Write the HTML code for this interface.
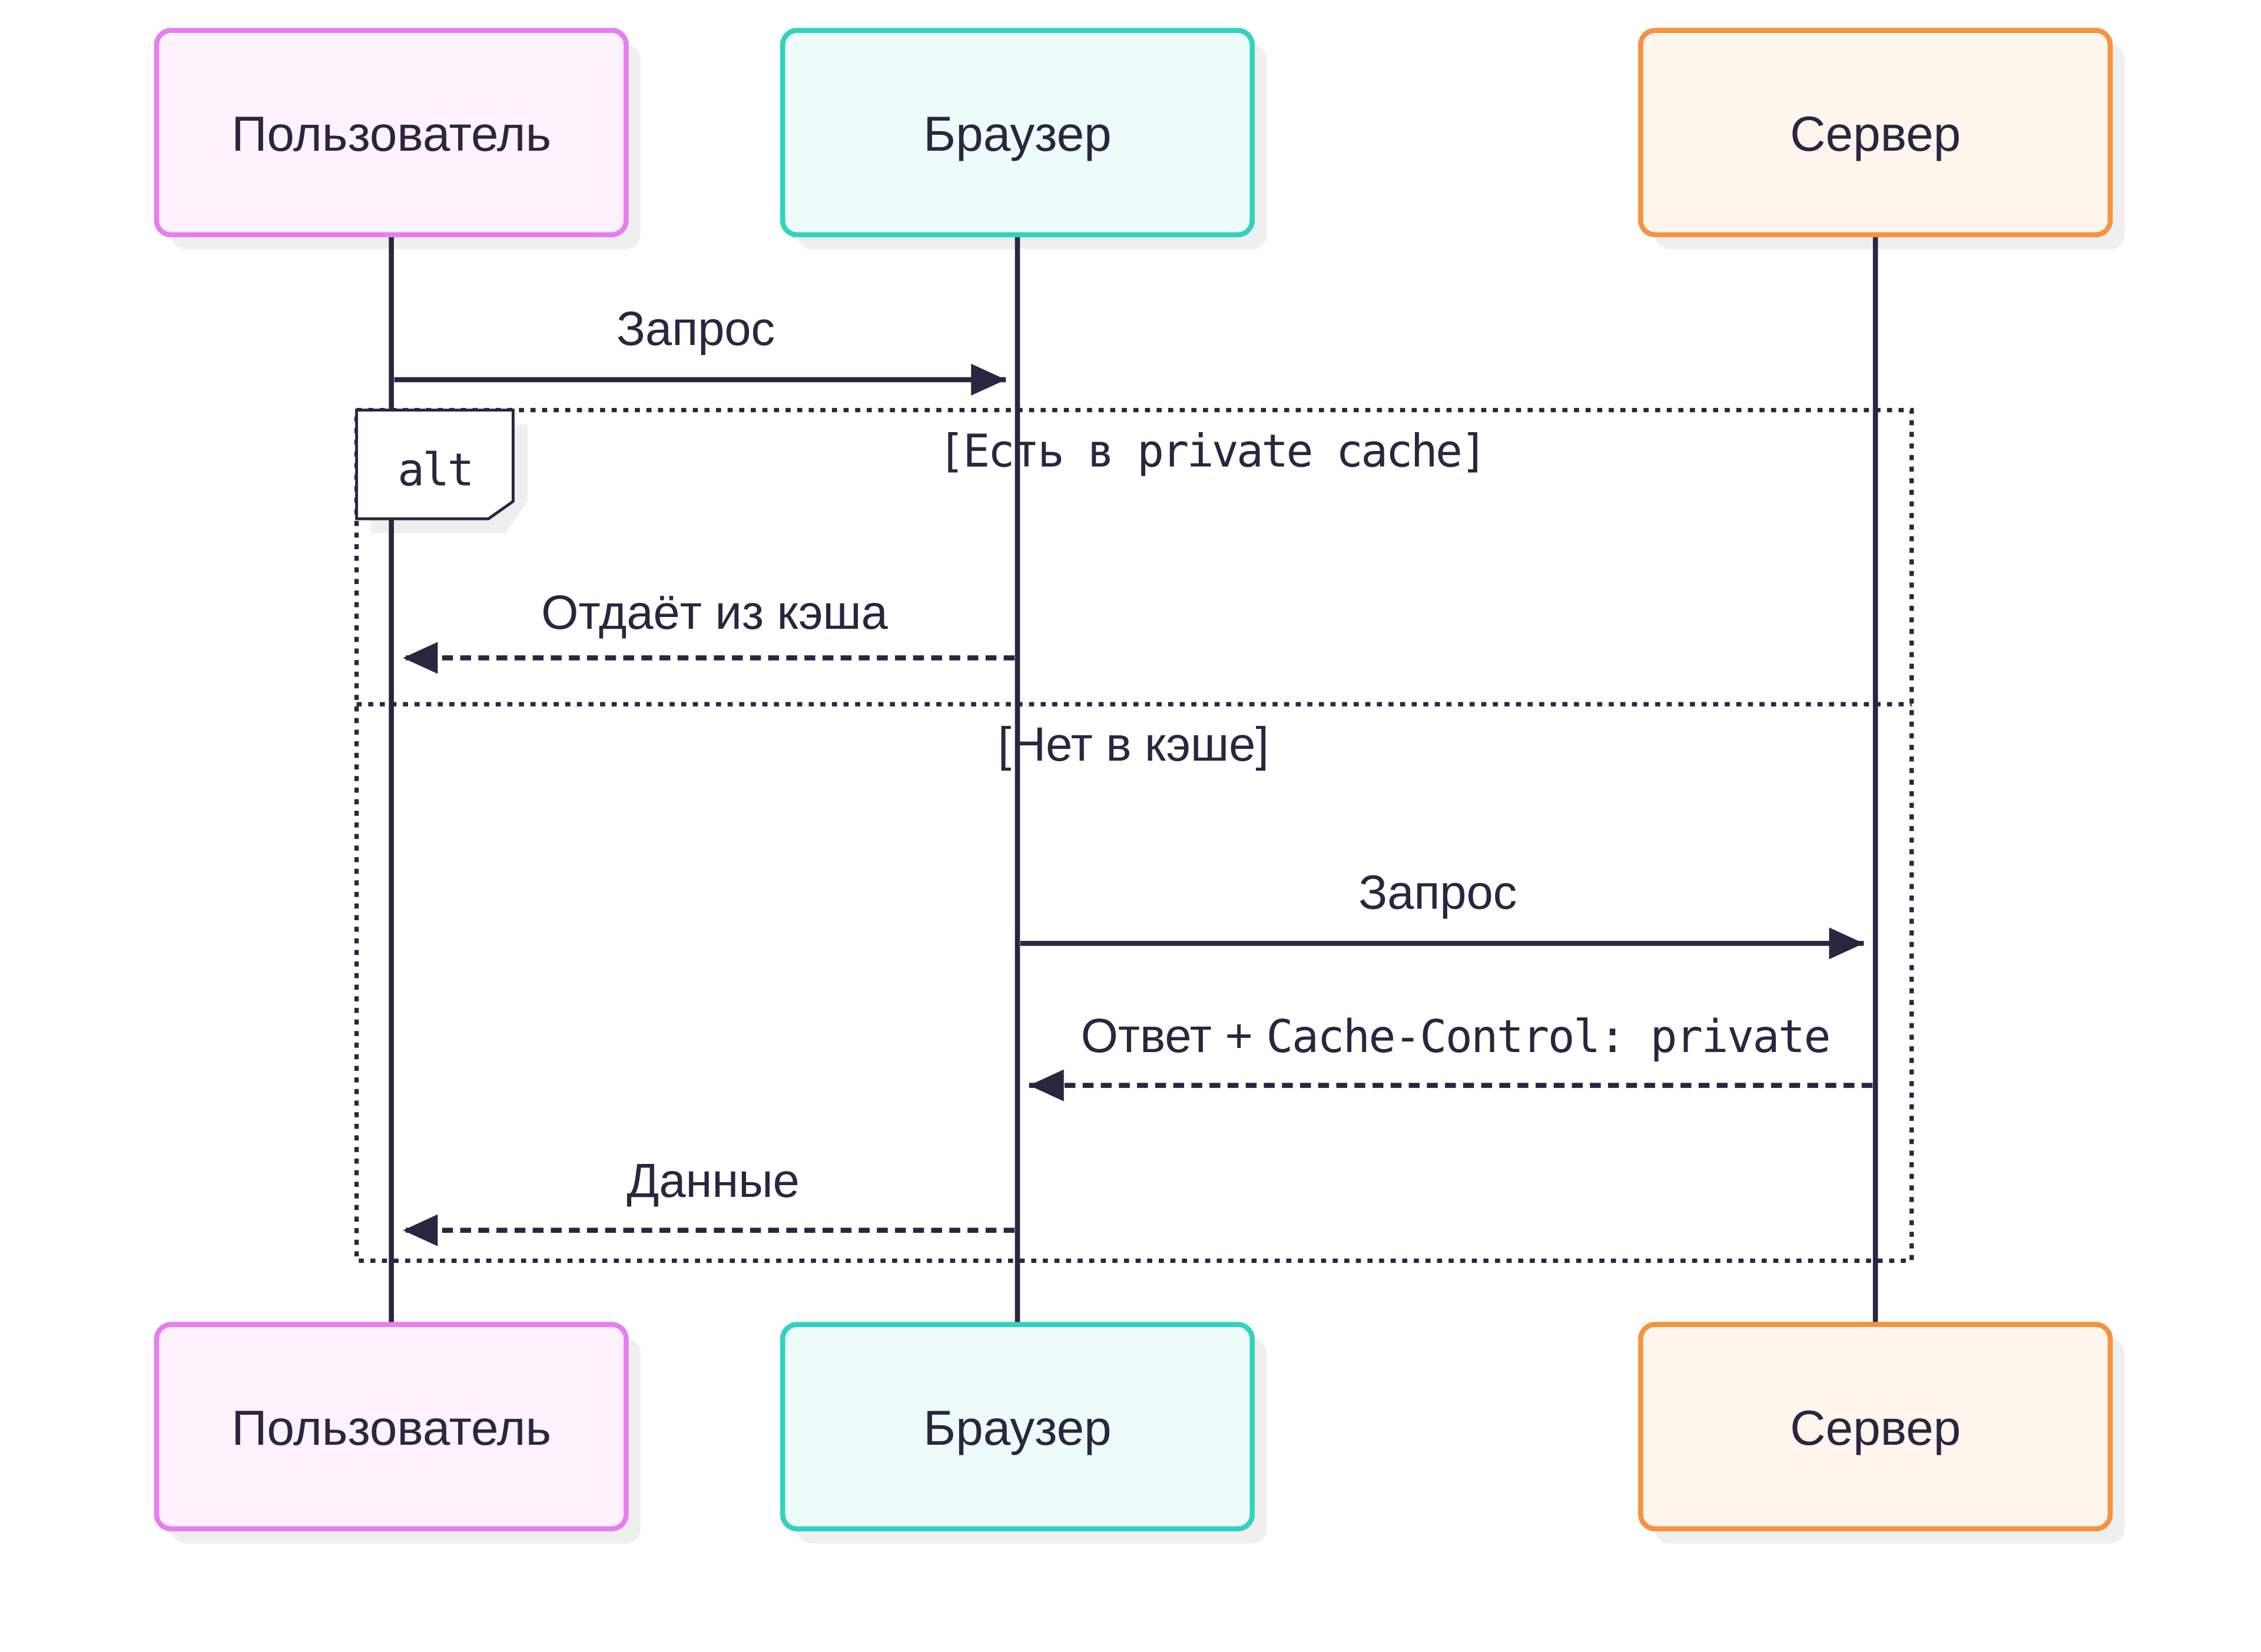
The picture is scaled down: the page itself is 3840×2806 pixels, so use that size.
<!DOCTYPE html>
<html><head><meta charset="utf-8"><style>html,body{margin:0;padding:0;background:#fff}svg{display:block}</style></head>
<body>
<svg width="3840" height="2806" viewBox="0 0 1560 1140" xmlns="http://www.w3.org/2000/svg">
<defs>
<marker id="ah" markerWidth="26" markerHeight="24" refX="24" refY="11" orient="auto" markerUnits="userSpaceOnUse" viewBox="0 0 26 24"><path d="M0,0 L24,11 L0,22 z" fill="#2a2640"/></marker>
</defs>
<rect width="1560" height="1140" fill="#fff"/>
<g fill="#efefef">
<rect x="118" y="31" width="324" height="141" rx="10"/>
<rect x="550" y="31" width="324" height="141" rx="10"/>
<rect x="1142" y="31" width="324" height="141" rx="10"/>
<rect x="118" y="924" width="324" height="141" rx="10"/>
<rect x="550" y="924" width="324" height="141" rx="10"/>
<rect x="1142" y="924" width="324" height="141" rx="10"/>
</g>
<g stroke="#2a2640" stroke-width="3.5">
<line x1="270" y1="162" x2="270" y2="914"/>
<line x1="702" y1="162" x2="702" y2="914"/>
<line x1="1294" y1="162" x2="1294" y2="914"/>
</g>
<g stroke-width="3.5">
<rect x="108" y="21" width="324" height="141" rx="10" fill="#fdf2fd" stroke="#e67ef0"/>
<rect x="540" y="21" width="324" height="141" rx="10" fill="#eefcf9" stroke="#2fd3bf"/>
<rect x="1132" y="21" width="324" height="141" rx="10" fill="#fef6ec" stroke="#f7923f"/>
<rect x="108" y="914" width="324" height="141" rx="10" fill="#fdf2fd" stroke="#e67ef0"/>
<rect x="540" y="914" width="324" height="141" rx="10" fill="#eefcf9" stroke="#2fd3bf"/>
<rect x="1132" y="914" width="324" height="141" rx="10" fill="#fef6ec" stroke="#f7923f"/>
</g>
<g font-family="Liberation Sans, DejaVu Sans, sans-serif" font-size="34" fill="#2a2640" text-anchor="middle">
<text x="270" y="104">Пользователь</text>
<text x="702" y="104">Браузер</text>
<text x="1294" y="104">Сервер</text>
<text x="270" y="997">Пользователь</text>
<text x="702" y="997">Браузер</text>
<text x="1294" y="997">Сервер</text>
</g>
<rect x="246" y="283" width="1073" height="587" fill="none" stroke="#2a2640" stroke-width="3" stroke-dasharray="3.5 4.5"/>
<line x1="246" y1="486" x2="1319" y2="486" stroke="#2a2640" stroke-width="3" stroke-dasharray="3.5 4.5"/>
<path d="M256,293 L364,293 L364,346 L349,368 L256,368 z" fill="#efefef"/>
<path d="M246,283 L354,283 L354,346 L337,358 L246,358 z" fill="#fff" stroke="#2a2640" stroke-width="2"/>
<line x1="270" y1="358" x2="270" y2="370" stroke="#2a2640" stroke-width="3.5"/>
<g font-family="DejaVu Sans Mono, Liberation Mono, monospace" font-size="31" fill="#2a2640" text-anchor="middle" letter-spacing="-1.5">
<text x="300" y="335">alt</text>
<text x="836" y="322">[Есть в private cache]</text>
</g>
<g font-family="Liberation Sans, DejaVu Sans, sans-serif" font-size="33" fill="#2a2640" text-anchor="middle">
<text x="782" y="525">[Нет в кэше]</text>
<text x="480" y="238">Запрос</text>
<text x="493" y="434">Отдаёт из кэша</text>
<text x="992" y="627">Запрос</text>
<text x="492" y="826">Данные</text>
<text x="1004" y="726">Ответ + <tspan font-family="DejaVu Sans Mono, Liberation Mono, monospace" font-size="31" letter-spacing="-1">Cache-Control: private</tspan></text>
</g>
<g stroke="#2a2640" stroke-width="3.5" fill="none">
<line x1="272" y1="262" x2="694" y2="262" marker-end="url(#ah)"/>
<line x1="700" y1="454" x2="278" y2="454" stroke-dasharray="7.5 5" marker-end="url(#ah)"/>
<line x1="704" y1="651" x2="1286" y2="651" marker-end="url(#ah)"/>
<line x1="1292" y1="749" x2="710" y2="749" stroke-dasharray="7.5 5" marker-end="url(#ah)"/>
<line x1="700" y1="849" x2="278" y2="849" stroke-dasharray="7.5 5" marker-end="url(#ah)"/>
</g>
</svg>
</body></html>
